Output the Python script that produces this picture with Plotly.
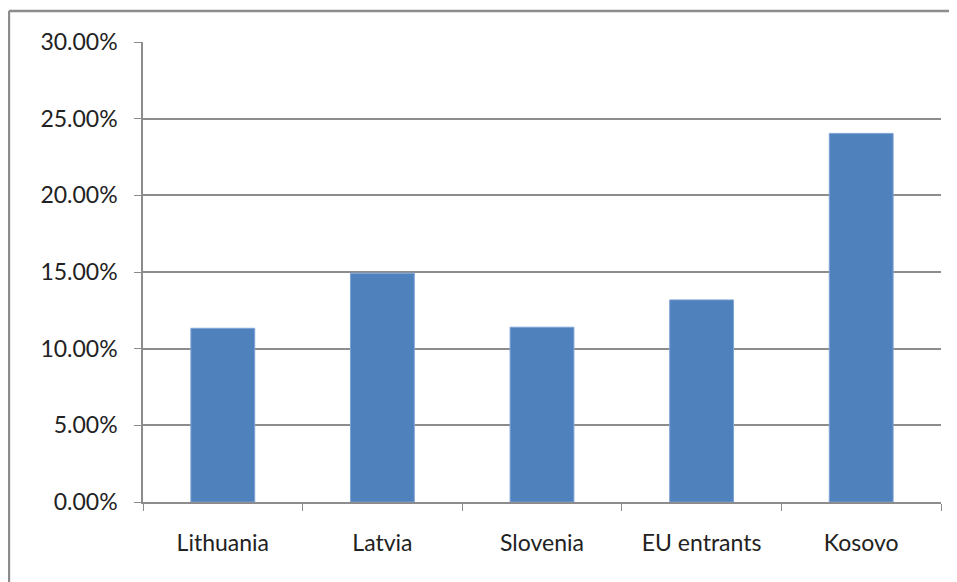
import plotly.graph_objects as go

countries = ["Lithuania", "Latvia", "Slovenia", "EU entrants", "Kosovo"]
rates = [0.1133, 0.1492, 0.1140, 0.1318, 0.2404]
y_ticks = [0, 0.05, 0.10, 0.15, 0.20, 0.25, 0.30]
y_tick_labels = ["0.00%", "5.00%", "10.00%", "15.00%", "20.00%", "25.00%", "30.00%"]

fig = go.Figure()

fig.add_trace(
    go.Bar(
        x=countries,
        y=rates,
        marker=dict(color="#4f81bd", line=dict(color="#7fa3d6", width=1)),
        width=0.4,
    )
)

grey = "#8c8c8c"

# page body has an 8px margin, so the figure is a bit smaller than the window
fig.update_layout(
    width=949,
    height=574,
    paper_bgcolor="white",
    plot_bgcolor="white",
    showlegend=False,
    margin=dict(l=135, r=16, t=34, b=80),
    font=dict(family="Lato, 'Open Sans', sans-serif", size=23, color="#222222"),
    xaxis=dict(
        showline=True,
        linecolor=grey,
        linewidth=1.5,
        ticks="outside",
        tickson="boundaries",
        ticklen=7,
        tickcolor=grey,
        ticklabelstandoff=20,
        showgrid=False,
    ),
    yaxis=dict(
        range=[0, 0.30],
        tickvals=y_ticks,
        ticktext=y_tick_labels,
        showline=True,
        linecolor=grey,
        linewidth=1.5,
        ticks="outside",
        ticklen=7,
        tickcolor=grey,
        ticklabelstandoff=12,
        showgrid=True,
        gridcolor=grey,
        gridwidth=1.5,
        zeroline=False,
    ),
    shapes=[
        # chart area border (left and top edges visible)
        dict(type="line", xref="paper", yref="paper",
             x0=-0.168, x1=1.05, y0=1.0674, y1=1.0674,
             line=dict(color=grey, width=2.5)),
        dict(type="line", xref="paper", yref="paper",
             x0=-0.168, x1=-0.168, y0=1.0674, y1=-0.2,
             line=dict(color=grey, width=2.5)),
    ],
)

fig.write_html("out.html")
